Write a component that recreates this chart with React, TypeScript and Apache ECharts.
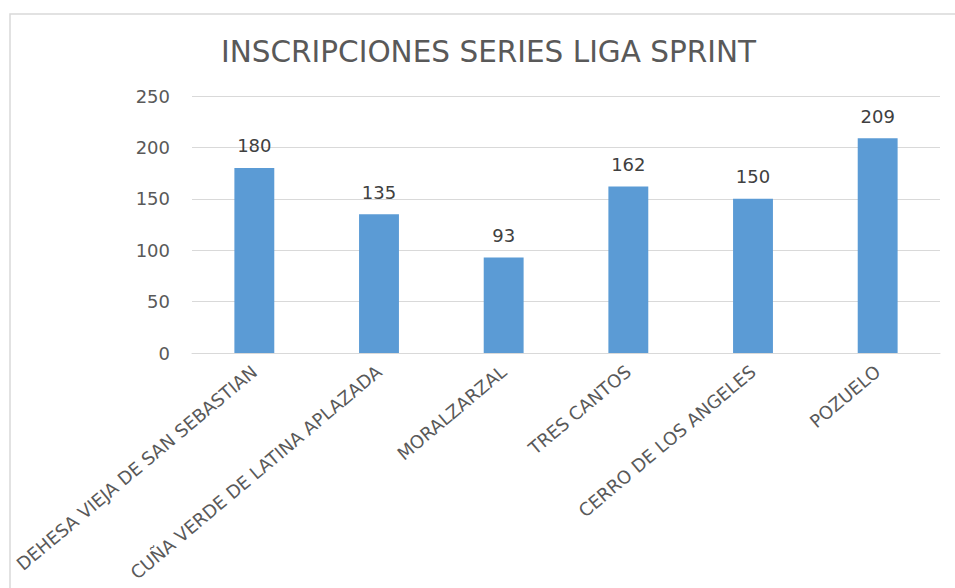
import React, { useEffect, useRef } from "react";
import * as echarts from "echarts";

const categories = [
  "DEHESA VIEJA DE SAN SEBASTIAN",
  "CUÑA VERDE DE LATINA APLAZADA",
  "MORALZARZAL",
  "TRES CANTOS",
  "CERRO DE LOS ANGELES",
  "POZUELO",
];
const values = [180, 135, 93, 162, 150, 209];
const yTicks = { min: 0, max: 250, interval: 50 };

export default function App() {
  const ref = useRef<HTMLDivElement>(null);
  useEffect(() => {
    if (!ref.current) return;
    const chart = echarts.init(ref.current, undefined, { renderer: "svg" });
    const font = "'DejaVu Sans', sans-serif";
    chart.setOption({
      animation: false,
      backgroundColor: "#ffffff",
      textStyle: { fontFamily: font },
      title: {
        text: "INSCRIPCIONES SERIES LIGA SPRINT",
        left: 216,
        top: 32,
        textStyle: { fontFamily: font, fontSize: 29.5, fontWeight: "normal", color: "#595959" },
      },
      graphic: [
        {
          type: "rect",
          shape: { x: 10, y: 14, width: 960, height: 600 },
          style: { fill: "none", stroke: "#d9d9d9", lineWidth: 1.5 },
          silent: true,
        },
      ],
      grid: { left: 192, right: 15, top: 96, bottom: 235, containLabel: false },
      xAxis: {
        type: "category",
        data: categories,
        axisLine: { show: true, lineStyle: { color: "#d9d9d9", width: 1 } },
        axisTick: { show: false },
        axisLabel: {
          rotate: 40,
          interval: 0,
          margin: 16,
          color: "#595959",
          fontSize: 18,
          fontFamily: font,
        },
      },
      yAxis: {
        type: "value",
        min: yTicks.min,
        max: yTicks.max,
        interval: yTicks.interval,
        axisLine: { show: false },
        axisTick: { show: false },
        splitLine: { lineStyle: { color: "#d9d9d9", width: 1 } },
        axisLabel: { color: "#595959", fontSize: 18, margin: 22, fontFamily: font },
      },
      series: [
        {
          type: "bar",
          data: values,
          barWidth: "32%",
          itemStyle: { color: "#5b9bd5" },
          label: {
            show: true,
            position: "top",
            distance: 13,
            color: "#404040",
            fontSize: 18,
            fontFamily: font,
          },
        },
      ],
    });
    return () => chart.dispose();
  }, []);
  return (
    <div
      ref={ref}
      style={{ position: "absolute", left: 0, top: 0, width: 955, height: 588 }}
    />
  );
}
